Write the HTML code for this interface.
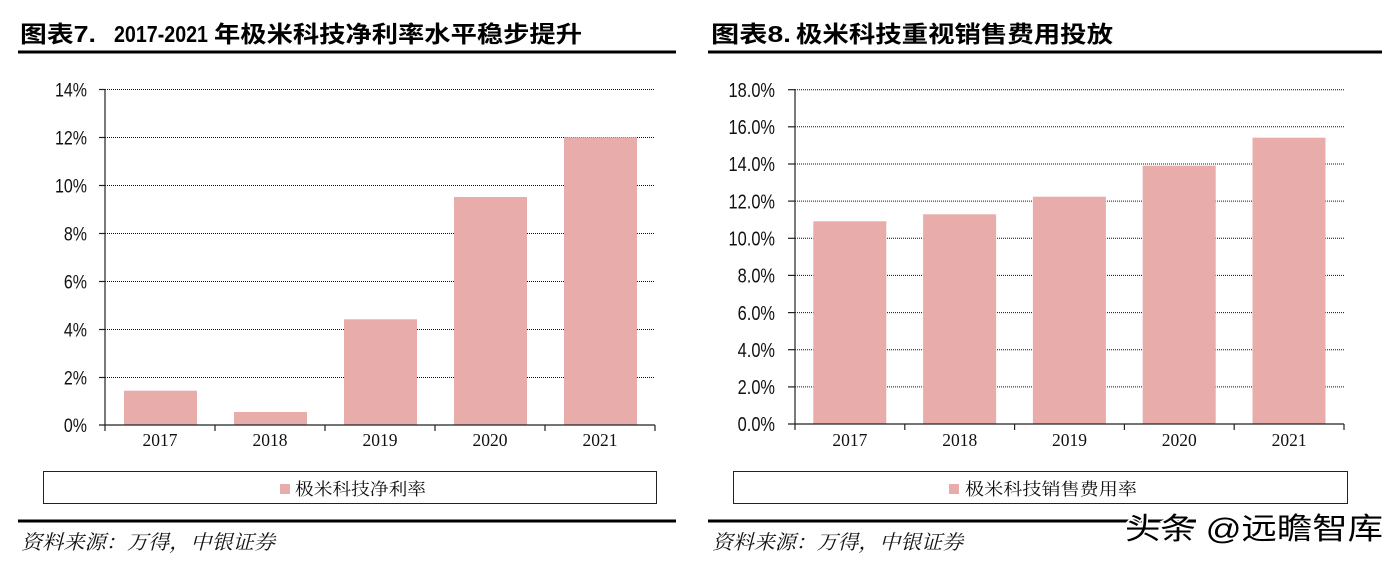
<!DOCTYPE html>
<html>
<head>
<meta charset="utf-8">
<style>
  html, body { margin:0; padding:0; background:#fff; }
  svg { display:block; }
  .title { font-family:"Liberation Sans","Noto Sans CJK SC",sans-serif; font-weight:700; font-size:23px; fill:#000; }
  .ytick { font-family:"Liberation Sans",sans-serif; font-size:19.5px; fill:#111; }
  .ytick2 { font-family:"Liberation Sans",sans-serif; font-size:20px; fill:#111; }
  .xtick { font-family:"Liberation Serif",serif; font-size:17.5px; fill:#111; }
  .leg { font-family:"Liberation Serif","Noto Serif CJK SC",serif; font-size:17px; fill:#111; }
  .src { font-family:"Liberation Serif","Noto Serif CJK SC",serif; font-size:20px; font-style:italic; fill:#111; }
  .wm { font-family:"Liberation Sans","Noto Sans CJK SC",sans-serif; font-size:30px; fill:#000; stroke:#fff; stroke-width:3px; paint-order:stroke; }
</style>
</head>
<body>
<svg width="1398" height="563" viewBox="0 0 1398 563" xmlns="http://www.w3.org/2000/svg">
  <rect width="1398" height="563" fill="#fff"/>

  <!-- ============ LEFT CHART ============ -->
  <text class="title" x="20" y="42" textLength="76" lengthAdjust="spacingAndGlyphs">图表7.</text>
  <text class="title" x="114" y="42" textLength="94" lengthAdjust="spacingAndGlyphs">2017-2021</text>
  <text class="title" x="214" y="42" textLength="368" lengthAdjust="spacingAndGlyphs">年极米科技净利率水平稳步提升</text>
  <rect x="18" y="50.5" width="658" height="3" fill="#000"/>

  <!-- gridlines -->
  <g stroke="#111" stroke-width="1" stroke-dasharray="1,1">
    <line x1="105" y1="89.5" x2="655" y2="89.5"/>
    <line x1="105" y1="137.5" x2="655" y2="137.5"/>
    <line x1="105" y1="185.5" x2="655" y2="185.5"/>
    <line x1="105" y1="233.5" x2="655" y2="233.5"/>
    <line x1="105" y1="281.5" x2="655" y2="281.5"/>
    <line x1="105" y1="329.5" x2="655" y2="329.5"/>
    <line x1="105" y1="377.5" x2="655" y2="377.5"/>
  </g>
  <!-- bars -->
  <g fill="#E8ACAB">
    <rect x="124" y="390.7" width="73" height="34.3"/>
    <rect x="234" y="412" width="73" height="13"/>
    <rect x="344" y="319.3" width="73" height="105.7"/>
    <rect x="454" y="197" width="73" height="228"/>
    <rect x="564" y="137.3" width="73" height="287.7"/>
  </g>
  <!-- axes -->
  <g stroke="#222" stroke-width="1.2">
    <line x1="105" y1="89" x2="105" y2="431"/>
    <line x1="99" y1="425" x2="655" y2="425"/>
    <line x1="99" y1="89.5" x2="105" y2="89.5"/>
    <line x1="99" y1="137.5" x2="105" y2="137.5"/>
    <line x1="99" y1="185.5" x2="105" y2="185.5"/>
    <line x1="99" y1="233.5" x2="105" y2="233.5"/>
    <line x1="99" y1="281.5" x2="105" y2="281.5"/>
    <line x1="99" y1="329.5" x2="105" y2="329.5"/>
    <line x1="99" y1="377.5" x2="105" y2="377.5"/>
    <line x1="215" y1="425" x2="215" y2="431"/>
    <line x1="325" y1="425" x2="325" y2="431"/>
    <line x1="435" y1="425" x2="435" y2="431"/>
    <line x1="545" y1="425" x2="545" y2="431"/>
    <line x1="655" y1="425" x2="655" y2="431"/>
  </g>
  <!-- y labels -->
  <g class="ytick" text-anchor="end">
    <text transform="translate(87,96.5) scale(0.82,1)">14%</text>
    <text transform="translate(87,144.5) scale(0.82,1)">12%</text>
    <text transform="translate(87,192.5) scale(0.82,1)">10%</text>
    <text transform="translate(87,240.5) scale(0.82,1)">8%</text>
    <text transform="translate(87,288.5) scale(0.82,1)">6%</text>
    <text transform="translate(87,336.5) scale(0.82,1)">4%</text>
    <text transform="translate(87,384.5) scale(0.82,1)">2%</text>
    <text transform="translate(87,432) scale(0.82,1)">0%</text>
  </g>
  <!-- x labels -->
  <g class="xtick" text-anchor="middle">
    <text x="160" y="446">2017</text>
    <text x="270" y="446">2018</text>
    <text x="380" y="446">2019</text>
    <text x="490" y="446">2020</text>
    <text x="600" y="446">2021</text>
  </g>
  <!-- legend -->
  <rect x="43.5" y="471.5" width="613" height="32" fill="none" stroke="#222" stroke-width="1"/>
  <rect x="280" y="484" width="10" height="10" fill="#E8ACAB"/>
  <text class="leg" x="295" y="495" textLength="131" lengthAdjust="spacingAndGlyphs">极米科技净利率</text>
  <!-- footer -->
  <rect x="18" y="519.5" width="658" height="3" fill="#000"/>
  <text class="src" x="21" y="549" textLength="254" lengthAdjust="spacingAndGlyphs">资料来源：万得，中银证券</text>

  <!-- ============ RIGHT CHART ============ -->
  <text class="title" x="711" y="42" textLength="80" lengthAdjust="spacingAndGlyphs">图表8.</text>
  <text class="title" x="796" y="42" textLength="317" lengthAdjust="spacingAndGlyphs">极米科技重视销售费用投放</text>
  <rect x="708" y="50.5" width="674" height="3" fill="#000"/>

  <g stroke="#111" stroke-width="1" stroke-dasharray="1,1">
    <line x1="795" y1="89.7" x2="1344" y2="89.7"/>
    <line x1="795" y1="126.8" x2="1344" y2="126.8"/>
    <line x1="795" y1="164" x2="1344" y2="164"/>
    <line x1="795" y1="201.1" x2="1344" y2="201.1"/>
    <line x1="795" y1="238.3" x2="1344" y2="238.3"/>
    <line x1="795" y1="275.4" x2="1344" y2="275.4"/>
    <line x1="795" y1="312.6" x2="1344" y2="312.6"/>
    <line x1="795" y1="349.7" x2="1344" y2="349.7"/>
    <line x1="795" y1="386.9" x2="1344" y2="386.9"/>
  </g>
  <g fill="#E8ACAB">
    <rect x="813.3" y="221.3" width="73" height="202.7"/>
    <rect x="923.1" y="214.3" width="73" height="209.7"/>
    <rect x="1032.9" y="196.7" width="73" height="227.3"/>
    <rect x="1142.7" y="165.7" width="73" height="258.3"/>
    <rect x="1252.5" y="137.7" width="73" height="286.3"/>
  </g>
  <g stroke="#222" stroke-width="1.2">
    <line x1="795" y1="89" x2="795" y2="430"/>
    <line x1="788" y1="424" x2="1344" y2="424"/>
    <line x1="788" y1="89.7" x2="795" y2="89.7"/>
    <line x1="788" y1="126.8" x2="795" y2="126.8"/>
    <line x1="788" y1="164" x2="795" y2="164"/>
    <line x1="788" y1="201.1" x2="795" y2="201.1"/>
    <line x1="788" y1="238.3" x2="795" y2="238.3"/>
    <line x1="788" y1="275.4" x2="795" y2="275.4"/>
    <line x1="788" y1="312.6" x2="795" y2="312.6"/>
    <line x1="788" y1="349.7" x2="795" y2="349.7"/>
    <line x1="788" y1="386.9" x2="795" y2="386.9"/>
    <line x1="904.8" y1="424" x2="904.8" y2="430"/>
    <line x1="1014.6" y1="424" x2="1014.6" y2="430"/>
    <line x1="1124.4" y1="424" x2="1124.4" y2="430"/>
    <line x1="1234.2" y1="424" x2="1234.2" y2="430"/>
    <line x1="1344" y1="424" x2="1344" y2="430"/>
  </g>
  <g class="ytick2" text-anchor="end">
    <text transform="translate(775,97) scale(0.82,1)">18.0%</text>
    <text transform="translate(775,134) scale(0.82,1)">16.0%</text>
    <text transform="translate(775,171.2) scale(0.82,1)">14.0%</text>
    <text transform="translate(775,208.3) scale(0.82,1)">12.0%</text>
    <text transform="translate(775,245.5) scale(0.82,1)">10.0%</text>
    <text transform="translate(775,282.6) scale(0.82,1)">8.0%</text>
    <text transform="translate(775,319.8) scale(0.82,1)">6.0%</text>
    <text transform="translate(775,356.9) scale(0.82,1)">4.0%</text>
    <text transform="translate(775,394.1) scale(0.82,1)">2.0%</text>
    <text transform="translate(775,431.2) scale(0.82,1)">0.0%</text>
  </g>
  <g class="xtick" text-anchor="middle">
    <text x="849.9" y="446">2017</text>
    <text x="959.7" y="446">2018</text>
    <text x="1069.5" y="446">2019</text>
    <text x="1179.3" y="446">2020</text>
    <text x="1289.1" y="446">2021</text>
  </g>
  <rect x="733.5" y="471.5" width="614" height="32" fill="none" stroke="#222" stroke-width="1"/>
  <rect x="949" y="484" width="10" height="10" fill="#E8ACAB"/>
  <text class="leg" x="965" y="495" textLength="172" lengthAdjust="spacingAndGlyphs">极米科技销售费用率</text>

  <rect x="708" y="519.5" width="488" height="3" fill="#000"/>
  <text class="src" x="712" y="549" textLength="251" lengthAdjust="spacingAndGlyphs">资料来源：万得，中银证券</text>

  <!-- watermark -->
  <text class="wm" x="1125" y="539" textLength="258" lengthAdjust="spacingAndGlyphs">头条 @远瞻智库</text>
</svg>
</body>
</html>
